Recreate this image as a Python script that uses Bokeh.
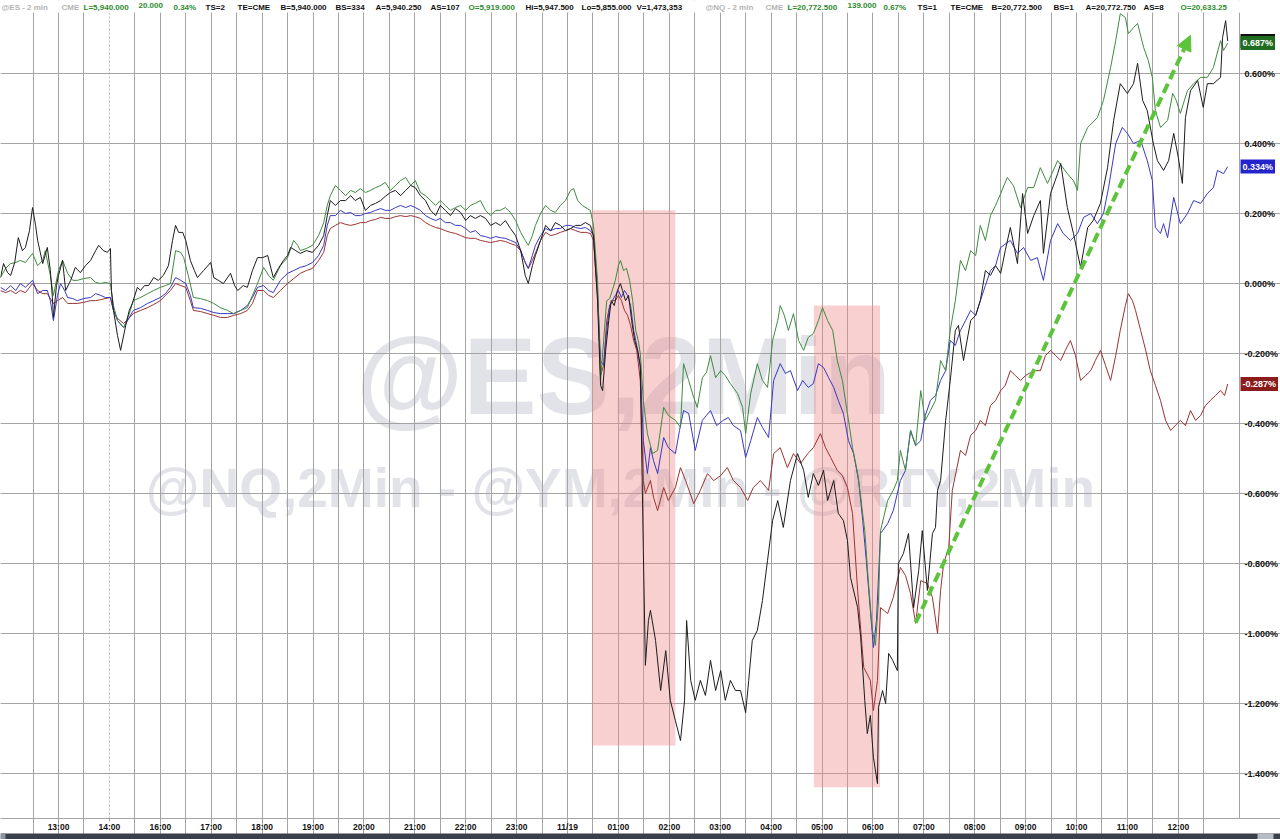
from bokeh.plotting import figure
from bokeh.models import (Range1d, FixedTicker, PrintfTickFormatter, Label,
                          BoxAnnotation, Arrow, NormalHead)
from bokeh.embed import file_html
from bokeh.resources import INLINE
from bokeh.core.properties import value

# ---------------- data ----------------
# x = position on the compressed session axis (one unit per labelled hour, 0 = "13:00")
time_labels = ["13:00", "14:00", "16:00", "17:00", "18:00", "19:00", "20:00", "21:00",
               "22:00", "23:00", "11/19", "01:00", "02:00", "03:00", "04:00", "05:00",
               "06:00", "07:00", "08:00", "09:00", "10:00", "11:00", "12:00"]
y_ticks = [-1.4, -1.2, -1.0, -0.8, -0.6, -0.4, -0.2, 0.0, 0.2, 0.4, 0.6]

# @RTY (black) % change
rty_t = [-1.14, -1.08, -1.00, -0.94, -0.86, -0.79, -0.71, -0.65, -0.57, -0.51,
         -0.45, -0.41, -0.31, -0.22, -0.16, -0.12, -0.10, -0.04, 0.00, 0.08,
         0.14, 0.24, 0.33, 0.43, 0.53, 0.63, 0.73, 0.79, 0.88, 0.96,
         1.02, 1.04, 1.08, 1.16, 1.22, 1.32, 1.39, 1.45, 1.55, 1.61,
         1.69, 1.77, 1.87, 1.96, 2.06, 2.16, 2.24, 2.30, 2.36, 2.44,
         2.50, 2.59, 2.67, 2.73, 2.85, 2.99, 3.05, 3.14, 3.24, 3.38,
         3.46, 3.52, 3.63, 3.71, 3.81, 3.91, 4.01, 4.11, 4.22, 4.32,
         4.42, 4.50, 4.56, 4.66, 4.75, 4.87, 4.99, 5.11, 5.21, 5.28,
         5.34, 5.44, 5.54, 5.64, 5.74, 5.83, 5.93, 6.03, 6.13, 6.23,
         6.33, 6.42, 6.52, 6.62, 6.72, 6.82, 6.92, 7.01, 7.11, 7.21,
         7.31, 7.41, 7.50, 7.60, 7.70, 7.80, 7.90, 8.00, 8.09, 8.19,
         8.29, 8.39, 8.49, 8.59, 8.68, 8.78, 8.88, 8.98, 9.08, 9.17,
         9.23, 9.31, 9.37, 9.47, 9.57, 9.67, 9.76, 9.86, 9.96, 10.06,
         10.16, 10.26, 10.35, 10.45, 10.51, 10.59, 10.65, 10.69, 10.75, 10.81,
         10.86, 10.92, 10.98, 11.04, 11.08, 11.14, 11.20, 11.26, 11.32, 11.38,
         11.43, 11.49, 11.53, 11.59, 11.63, 11.73, 11.83, 11.93, 12.02, 12.12,
         12.22, 12.30, 12.34, 12.42, 12.51, 12.61, 12.71, 12.81, 12.91, 13.01,
         13.10, 13.20, 13.30, 13.40, 13.50, 13.56, 13.63, 13.73, 13.83, 13.93,
         14.03, 14.13, 14.24, 14.38, 14.52, 14.64, 14.73, 14.83, 14.93, 15.03,
         15.11, 15.23, 15.32, 15.42, 15.50, 15.56, 15.70, 15.76, 15.84, 15.89,
         15.95, 16.01, 16.09, 16.11, 16.19, 16.25, 16.31, 16.39, 16.48, 16.50,
         16.60, 16.70, 16.80, 16.90, 16.97, 17.07, 17.17, 17.23, 17.27, 17.33,
         17.43, 17.52, 17.62, 17.68, 17.78, 17.92, 18.02, 18.11, 18.21, 18.31,
         18.41, 18.51, 18.60, 18.70, 18.84, 18.94, 19.04, 19.16, 19.29, 19.35,
         19.49, 19.63, 19.69, 19.82, 19.94, 20.08, 20.22, 20.33, 20.47, 20.61,
         20.73, 20.86, 21.00, 21.12, 21.20, 21.30, 21.39, 21.51, 21.59, 21.71,
         21.81, 21.91, 22.00, 22.08, 22.14, 22.24, 22.38, 22.49, 22.57, 22.69,
         22.83, 22.87, 22.93, 22.97]
rty_v = [0.017, 0.057, 0.031, 0.023, 0.060, 0.131, 0.094, 0.103, 0.151, 0.217,
         0.166, 0.123, 0.057, 0.103, 0.037, -0.040, -0.097, -0.006, 0.023, 0.066,
         -0.020, 0.009, 0.046, 0.031, 0.051, 0.066, 0.094, 0.109, 0.094, 0.089,
         0.100, -0.020, -0.077, -0.149, -0.191, -0.120, -0.077, -0.057, -0.011, -0.020,
         -0.006, -0.006, 0.017, 0.009, 0.023, 0.051, 0.123, 0.166, 0.146, 0.146,
         0.123, 0.066, 0.037, 0.017, 0.037, 0.060, 0.017, 0.009, 0.000, 0.029,
         -0.006, -0.020, -0.006, -0.011, 0.037, 0.074, 0.074, 0.080, 0.017, 0.043,
         0.066, 0.080, 0.103, 0.094, 0.086, 0.094, 0.089, 0.109, 0.137, 0.194,
         0.237, 0.223, 0.237, 0.237, 0.251, 0.237, 0.246, 0.209, 0.223, 0.229,
         0.237, 0.249, 0.260, 0.266, 0.251, 0.266, 0.280, 0.274, 0.251, 0.237,
         0.209, 0.194, 0.223, 0.209, 0.194, 0.214, 0.203, 0.180, 0.194, 0.186,
         0.194, 0.186, 0.166, 0.174, 0.166, 0.180, 0.157, 0.137, 0.094, 0.023,
         0.000, 0.051, 0.080, 0.123, 0.166, 0.151, 0.174, 0.166, 0.151, 0.157,
         0.166, 0.166, 0.174, 0.166, 0.137, -0.049, -0.291, -0.306, -0.191, -0.106,
         -0.049, -0.063, -0.020, 0.000, -0.020, -0.049, -0.034, -0.106, -0.163, -0.191,
         -0.234, -0.763, -1.091, -0.963, -0.934, -1.020, -1.163, -1.049, -1.191, -1.249,
         -1.306, -1.191, -0.963, -1.134, -1.191, -1.134, -1.177, -1.077, -1.163, -1.106,
         -1.191, -1.134, -1.163, -1.163, -1.226, -1.134, -1.020, -0.991, -0.906, -0.791,
         -0.677, -0.620, -0.697, -0.563, -0.486, -0.534, -0.611, -0.543, -0.577, -0.534,
         -0.620, -0.563, -0.657, -0.677, -0.734, -0.840, -0.926, -1.011, -1.191, -1.286,
         -1.234, -1.354, -1.429, -1.211, -1.163, -1.200, -1.057, -1.077, -1.106, -0.800,
         -0.771, -0.714, -0.926, -0.820, -0.706, -0.877, -0.714, -0.697, -0.591, -0.563,
         -0.391, -0.277, -0.134, -0.120, -0.220, -0.106, -0.091, -0.049, 0.037, 0.023,
         0.051, 0.029, 0.094, 0.160, 0.057, 0.257, 0.143, 0.194, 0.237, 0.086,
         0.257, 0.314, 0.343, 0.217, 0.143, 0.046, 0.160, 0.180, 0.229, 0.331,
         0.466, 0.571, 0.543, 0.571, 0.629, 0.523, 0.494, 0.400, 0.351, 0.323,
         0.351, 0.429, 0.360, 0.286, 0.474, 0.551, 0.580, 0.503, 0.571, 0.571,
         0.589, 0.703, 0.751, 0.693]

# @NQ (green) % change
nq_t = [-1.14, -1.04, -0.94, -0.84, -0.75, -0.65, -0.51, -0.41, -0.31, -0.26,
        -0.16, -0.10, 0.00, 0.08, 0.18, 0.28, 0.37, 0.49, 0.63, 0.73,
        0.83, 0.92, 1.02, 1.08, 1.16, 1.28, 1.38, 1.47, 1.61, 1.75,
        1.87, 2.00, 2.10, 2.20, 2.30, 2.40, 2.46, 2.55, 2.65, 2.79,
        2.93, 3.05, 3.18, 3.32, 3.44, 3.58, 3.71, 3.81, 3.91, 4.03,
        4.13, 4.22, 4.36, 4.50, 4.62, 4.70, 4.75, 4.87, 4.99, 5.11,
        5.21, 5.28, 5.34, 5.44, 5.54, 5.64, 5.74, 5.83, 5.93, 6.03,
        6.13, 6.23, 6.33, 6.42, 6.52, 6.62, 6.72, 6.82, 6.92, 7.01,
        7.11, 7.21, 7.31, 7.41, 7.50, 7.60, 7.70, 7.80, 7.90, 8.00,
        8.09, 8.19, 8.29, 8.39, 8.49, 8.59, 8.68, 8.78, 8.88, 8.98,
        9.08, 9.17, 9.23, 9.31, 9.37, 9.47, 9.57, 9.67, 9.76, 9.86,
        9.96, 10.06, 10.12, 10.20, 10.29, 10.39, 10.45, 10.51, 10.59, 10.65,
        10.71, 10.77, 10.83, 10.88, 10.94, 11.00, 11.04, 11.10, 11.16, 11.22,
        11.28, 11.34, 11.39, 11.43, 11.49, 11.57, 11.67, 11.77, 11.89, 11.98,
        12.12, 12.22, 12.28, 12.38, 12.48, 12.55, 12.65, 12.73, 12.81, 12.91,
        13.01, 13.10, 13.20, 13.34, 13.44, 13.50, 13.60, 13.73, 13.83, 13.93,
        14.03, 14.13, 14.18, 14.26, 14.34, 14.44, 14.54, 14.64, 14.73, 14.83,
        14.93, 15.01, 15.11, 15.21, 15.30, 15.40, 15.50, 15.60, 15.70, 15.76,
        15.84, 15.91, 15.99, 16.05, 16.11, 16.15, 16.29, 16.40, 16.48, 16.54,
        16.64, 16.74, 16.84, 16.94, 17.03, 17.13, 17.23, 17.33, 17.43, 17.52,
        17.62, 17.72, 17.82, 17.92, 18.02, 18.11, 18.21, 18.31, 18.41, 18.51,
        18.64, 18.76, 18.90, 19.04, 19.16, 19.29, 19.43, 19.63, 19.82, 19.94,
        20.02, 20.08, 20.22, 20.41, 20.53, 20.67, 20.77, 20.86, 20.96, 21.02,
        21.12, 21.20, 21.32, 21.41, 21.49, 21.55, 21.65, 21.79, 21.89, 21.96,
        22.04, 22.18, 22.30, 22.44, 22.57, 22.69, 22.83, 22.89, 22.97]
nq_v = [0.017, 0.043, 0.057, 0.060, 0.066, 0.060, 0.086, 0.051, 0.066, 0.094,
        0.023, -0.034, 0.037, 0.066, 0.029, 0.009, 0.009, 0.014, 0.017, 0.003,
        0.000, 0.003, 0.000, -0.063, -0.106, -0.126, -0.091, -0.049, -0.040, -0.029,
        -0.020, -0.011, -0.006, 0.000, 0.094, 0.089, 0.074, 0.023, -0.040, -0.043,
        -0.049, -0.057, -0.069, -0.077, -0.086, -0.077, -0.069, -0.034, 0.000, 0.046,
        0.023, 0.009, 0.051, 0.074, 0.123, 0.109, 0.094, 0.100, 0.109, 0.137,
        0.174, 0.223, 0.251, 0.280, 0.266, 0.251, 0.266, 0.260, 0.271, 0.260,
        0.266, 0.274, 0.280, 0.289, 0.266, 0.280, 0.294, 0.303, 0.280, 0.294,
        0.260, 0.251, 0.237, 0.223, 0.237, 0.223, 0.209, 0.217, 0.223, 0.209,
        0.223, 0.229, 0.237, 0.209, 0.194, 0.209, 0.209, 0.217, 0.203, 0.180,
        0.146, 0.123, 0.109, 0.137, 0.166, 0.200, 0.223, 0.209, 0.203, 0.223,
        0.237, 0.266, 0.271, 0.237, 0.223, 0.214, 0.209, 0.166, 0.009, -0.277,
        -0.163, -0.049, -0.043, -0.020, 0.009, 0.051, 0.066, 0.037, 0.043, 0.009,
        -0.049, -0.134, -0.163, -0.200, -0.334, -0.429, -0.486, -0.477, -0.354, -0.377,
        -0.391, -0.411, -0.229, -0.277, -0.326, -0.354, -0.269, -0.254, -0.206, -0.269,
        -0.249, -0.263, -0.286, -0.314, -0.354, -0.429, -0.314, -0.229, -0.277, -0.297,
        -0.163, -0.106, -0.063, -0.091, -0.134, -0.086, -0.163, -0.191, -0.154, -0.143,
        -0.106, -0.069, -0.106, -0.134, -0.220, -0.277, -0.371, -0.469, -0.543, -0.611,
        -0.706, -0.849, -0.991, -1.034, -0.906, -0.706, -0.620, -0.591, -0.563, -0.477,
        -0.534, -0.420, -0.463, -0.306, -0.391, -0.363, -0.334, -0.220, -0.249, -0.134,
        -0.049, 0.066, 0.037, 0.094, 0.080, 0.166, 0.123, 0.194, 0.223, 0.257,
        0.303, 0.280, 0.217, 0.274, 0.274, 0.331, 0.286, 0.351, 0.314, 0.294,
        0.266, 0.400, 0.446, 0.474, 0.523, 0.617, 0.694, 0.771, 0.760, 0.714,
        0.731, 0.743, 0.674, 0.637, 0.589, 0.494, 0.446, 0.466, 0.543, 0.523,
        0.486, 0.551, 0.571, 0.589, 0.589, 0.617, 0.694, 0.666, 0.687]

# @ES (blue) % change
es_t = [-1.14, -1.04, -0.94, -0.84, -0.75, -0.65, -0.51, -0.41, -0.31, -0.22,
        -0.16, -0.10, -0.02, 0.04, 0.12, 0.18, 0.28, 0.37, 0.49, 0.63,
        0.73, 0.83, 0.92, 1.02, 1.08, 1.16, 1.28, 1.38, 1.47, 1.61,
        1.75, 1.87, 2.00, 2.10, 2.20, 2.30, 2.40, 2.50, 2.59, 2.65,
        2.79, 2.93, 3.05, 3.18, 3.32, 3.44, 3.58, 3.71, 3.81, 3.91,
        4.03, 4.13, 4.22, 4.36, 4.50, 4.62, 4.75, 4.87, 4.99, 5.11,
        5.21, 5.28, 5.34, 5.44, 5.54, 5.64, 5.74, 5.83, 5.93, 6.03,
        6.13, 6.23, 6.33, 6.42, 6.52, 6.62, 6.72, 6.82, 6.92, 7.01,
        7.11, 7.21, 7.31, 7.41, 7.50, 7.60, 7.70, 7.80, 7.90, 8.00,
        8.09, 8.19, 8.29, 8.39, 8.49, 8.59, 8.68, 8.78, 8.88, 8.98,
        9.08, 9.17, 9.23, 9.31, 9.37, 9.47, 9.57, 9.67, 9.76, 9.86,
        9.96, 10.06, 10.16, 10.26, 10.35, 10.45, 10.51, 10.59, 10.65, 10.71,
        10.77, 10.83, 10.88, 10.94, 11.00, 11.06, 11.12, 11.18, 11.24, 11.30,
        11.36, 11.43, 11.49, 11.57, 11.63, 11.69, 11.77, 11.89, 11.98, 12.12,
        12.20, 12.28, 12.38, 12.44, 12.51, 12.65, 12.73, 12.81, 12.93, 13.06,
        13.16, 13.26, 13.40, 13.50, 13.60, 13.73, 13.83, 13.95, 14.05, 14.18,
        14.28, 14.38, 14.52, 14.62, 14.73, 14.83, 14.93, 15.03, 15.13, 15.23,
        15.32, 15.42, 15.52, 15.62, 15.72, 15.80, 15.87, 15.95, 16.01, 16.07,
        16.15, 16.29, 16.40, 16.54, 16.64, 16.74, 16.84, 16.94, 17.03, 17.13,
        17.23, 17.33, 17.43, 17.52, 17.62, 17.72, 17.82, 17.92, 18.02, 18.11,
        18.21, 18.31, 18.41, 18.51, 18.70, 18.84, 18.96, 19.10, 19.23, 19.35,
        19.49, 19.63, 19.74, 19.88, 20.02, 20.14, 20.28, 20.41, 20.53, 20.63,
        20.77, 20.90, 21.00, 21.12, 21.26, 21.39, 21.49, 21.55, 21.65, 21.71,
        21.79, 21.91, 22.04, 22.18, 22.30, 22.44, 22.57, 22.69, 22.77, 22.89,
        22.97]
es_v = [-0.011, -0.020, -0.006, -0.020, 0.000, -0.011, 0.009, -0.029, -0.020, -0.020,
        -0.049, -0.106, -0.034, 0.000, -0.020, -0.040, -0.043, -0.049, -0.043, -0.040,
        -0.029, -0.034, -0.040, -0.040, -0.077, -0.106, -0.126, -0.100, -0.077, -0.069,
        -0.057, -0.049, -0.040, -0.029, -0.011, 0.017, 0.009, 0.000, -0.034, -0.069,
        -0.071, -0.077, -0.083, -0.086, -0.086, -0.086, -0.077, -0.063, -0.040, -0.011,
        -0.006, -0.020, -0.026, 0.009, 0.029, 0.037, 0.046, 0.051, 0.060, 0.080,
        0.109, 0.166, 0.194, 0.194, 0.209, 0.200, 0.203, 0.194, 0.194, 0.200,
        0.203, 0.209, 0.214, 0.209, 0.209, 0.217, 0.223, 0.217, 0.223, 0.217,
        0.209, 0.194, 0.186, 0.180, 0.186, 0.174, 0.174, 0.166, 0.166, 0.157,
        0.146, 0.151, 0.137, 0.134, 0.129, 0.134, 0.131, 0.129, 0.123, 0.117,
        0.094, 0.060, 0.043, 0.080, 0.109, 0.137, 0.157, 0.151, 0.157, 0.157,
        0.166, 0.166, 0.160, 0.157, 0.160, 0.151, 0.137, -0.020, -0.220, -0.234,
        -0.134, -0.063, -0.049, -0.034, -0.020, -0.040, -0.020, -0.034, -0.063, -0.134,
        -0.177, -0.240, -0.449, -0.543, -0.469, -0.506, -0.543, -0.440, -0.469, -0.486,
        -0.420, -0.363, -0.371, -0.420, -0.477, -0.391, -0.377, -0.363, -0.406, -0.391,
        -0.383, -0.406, -0.420, -0.497, -0.449, -0.383, -0.411, -0.440, -0.277, -0.229,
        -0.257, -0.249, -0.306, -0.277, -0.297, -0.286, -0.229, -0.240, -0.269, -0.297,
        -0.334, -0.371, -0.449, -0.486, -0.563, -0.677, -0.791, -0.934, -1.040, -0.963,
        -0.714, -0.686, -0.649, -0.563, -0.534, -0.420, -0.463, -0.449, -0.377, -0.334,
        -0.320, -0.277, -0.249, -0.163, -0.177, -0.134, -0.106, -0.077, -0.091, -0.049,
        -0.006, 0.037, 0.051, 0.103, 0.123, 0.086, 0.103, 0.066, 0.074, 0.009,
        0.123, 0.171, 0.143, 0.123, 0.143, 0.189, 0.200, 0.171, 0.200, 0.274,
        0.400, 0.446, 0.429, 0.400, 0.409, 0.351, 0.294, 0.160, 0.143, 0.171,
        0.131, 0.246, 0.171, 0.200, 0.237, 0.229, 0.257, 0.274, 0.323, 0.314,
        0.334]

# @YM (dark red) % change
ym_t = [-1.14, -1.04, -0.94, -0.84, -0.75, -0.65, -0.51, -0.41, -0.31, -0.22,
        -0.10, -0.02, 0.08, 0.18, 0.28, 0.37, 0.49, 0.63, 0.73, 0.83,
        0.92, 1.02, 1.08, 1.16, 1.28, 1.38, 1.47, 1.61, 1.75, 1.87,
        2.00, 2.10, 2.20, 2.30, 2.40, 2.50, 2.59, 2.65, 2.79, 2.93,
        3.05, 3.18, 3.32, 3.44, 3.58, 3.71, 3.81, 3.91, 4.03, 4.13,
        4.22, 4.36, 4.50, 4.62, 4.75, 4.87, 4.99, 5.11, 5.21, 5.28,
        5.34, 5.44, 5.54, 5.64, 5.74, 5.83, 5.93, 6.03, 6.13, 6.23,
        6.33, 6.42, 6.52, 6.62, 6.72, 6.82, 6.92, 7.01, 7.11, 7.21,
        7.31, 7.41, 7.50, 7.60, 7.70, 7.80, 7.90, 8.00, 8.09, 8.19,
        8.29, 8.39, 8.49, 8.59, 8.68, 8.78, 8.88, 8.98, 9.08, 9.17,
        9.23, 9.31, 9.39, 9.47, 9.57, 9.67, 9.76, 9.86, 9.96, 10.06,
        10.16, 10.26, 10.35, 10.45, 10.51, 10.59, 10.65, 10.71, 10.77, 10.83,
        10.88, 10.94, 11.00, 11.06, 11.12, 11.18, 11.24, 11.30, 11.36, 11.43,
        11.49, 11.53, 11.63, 11.69, 11.77, 11.89, 11.98, 12.12, 12.22, 12.32,
        12.48, 12.61, 12.75, 12.87, 13.01, 13.14, 13.26, 13.40, 13.54, 13.65,
        13.79, 13.95, 14.05, 14.18, 14.32, 14.44, 14.58, 14.72, 14.83, 14.97,
        15.07, 15.17, 15.30, 15.40, 15.50, 15.60, 15.70, 15.82, 15.95, 16.01,
        16.09, 16.15, 16.29, 16.40, 16.54, 16.64, 16.74, 16.84, 16.94, 17.07,
        17.17, 17.27, 17.33, 17.39, 17.49, 17.56, 17.64, 17.72, 17.82, 17.92,
        18.02, 18.11, 18.21, 18.31, 18.41, 18.51, 18.60, 18.70, 18.80, 18.90,
        19.00, 19.10, 19.19, 19.29, 19.39, 19.49, 19.59, 19.69, 19.78, 19.88,
        19.98, 20.08, 20.18, 20.28, 20.37, 20.47, 20.57, 20.67, 20.77, 20.86,
        20.96, 21.02, 21.10, 21.16, 21.26, 21.36, 21.45, 21.55, 21.65, 21.75,
        21.85, 21.94, 22.04, 22.14, 22.24, 22.34, 22.44, 22.53, 22.63, 22.73,
        22.83, 22.91, 22.97]
ym_v = [-0.020, -0.026, -0.020, -0.029, -0.020, -0.026, 0.000, -0.020, -0.029, -0.029,
        -0.057, -0.049, -0.040, -0.057, -0.057, -0.057, -0.054, -0.049, -0.049, -0.046,
        -0.043, -0.040, -0.077, -0.100, -0.114, -0.100, -0.086, -0.077, -0.069, -0.060,
        -0.049, -0.034, -0.020, 0.000, -0.006, -0.011, -0.049, -0.077, -0.080, -0.086,
        -0.091, -0.097, -0.097, -0.091, -0.086, -0.077, -0.057, -0.020, -0.020, -0.034,
        -0.040, -0.020, 0.000, 0.014, 0.029, 0.037, 0.043, 0.066, 0.089, 0.137,
        0.157, 0.166, 0.174, 0.169, 0.166, 0.169, 0.174, 0.174, 0.180, 0.183,
        0.189, 0.186, 0.186, 0.191, 0.194, 0.191, 0.194, 0.191, 0.186, 0.174,
        0.166, 0.160, 0.157, 0.151, 0.146, 0.143, 0.137, 0.131, 0.129, 0.129,
        0.123, 0.120, 0.117, 0.120, 0.123, 0.120, 0.114, 0.109, 0.094, 0.060,
        0.043, 0.066, 0.094, 0.123, 0.146, 0.137, 0.140, 0.146, 0.151, 0.157,
        0.151, 0.146, 0.146, 0.143, 0.123, -0.034, -0.263, -0.234, -0.106, -0.063,
        -0.049, -0.049, -0.034, -0.049, -0.077, -0.091, -0.120, -0.163, -0.191, -0.277,
        -0.563, -0.600, -0.563, -0.611, -0.649, -0.583, -0.620, -0.583, -0.526, -0.563,
        -0.629, -0.591, -0.543, -0.563, -0.549, -0.526, -0.563, -0.583, -0.620, -0.583,
        -0.563, -0.591, -0.486, -0.469, -0.526, -0.486, -0.514, -0.486, -0.469, -0.429,
        -0.469, -0.497, -0.534, -0.549, -0.583, -0.657, -0.877, -1.097, -1.134, -1.220,
        -1.134, -0.926, -0.943, -0.897, -0.811, -0.834, -0.886, -0.971, -0.849, -0.857,
        -0.897, -1.000, -0.877, -0.800, -0.754, -0.591, -0.534, -0.477, -0.491, -0.434,
        -0.420, -0.391, -0.406, -0.349, -0.334, -0.306, -0.291, -0.249, -0.263, -0.277,
        -0.263, -0.254, -0.249, -0.249, -0.206, -0.191, -0.206, -0.220, -0.191, -0.163,
        -0.206, -0.277, -0.263, -0.249, -0.220, -0.191, -0.234, -0.277, -0.206, -0.134,
        -0.063, -0.029, -0.049, -0.077, -0.134, -0.191, -0.249, -0.291, -0.334, -0.391,
        -0.420, -0.406, -0.391, -0.406, -0.363, -0.391, -0.377, -0.349, -0.334, -0.320,
        -0.306, -0.320, -0.287]

# shaded sell-off windows (start, end on the session axis; top, bottom in %)
zone_start = [10.48, 14.84]
zone_end = [12.12, 16.14]
zone_top = [0.209, -0.063]
zone_bottom = [-1.320, -1.439]

# trend arrow (from, to)
arrow_t = [16.84, 22.24]
arrow_v = [-0.969, 0.709]

for a, b in [(rty_t, rty_v), (nq_t, nq_v), (es_t, es_v), (ym_t, ym_v)]:
    assert len(a) == len(b), (len(a), len(b))

# ---------------- layout ----------------
FONT = "Liberation Sans"
W, H = 1280, 839
PX_PER_HOUR = 50.9          # horizontal spacing of the hour labels
PX_PER_PCT = 350.0          # vertical spacing of 1 %
ORIGIN_PX = 58.0            # "13:00" tick
ZERO_PY = 283.0             # 0.000 % line


def hx(px):  # horizontal pixel -> session axis
    return (px - ORIGIN_PX) / PX_PER_HOUR


def vy(py):  # vertical pixel (from top) -> %
    return (ZERO_PY - py) / PX_PER_PCT


X0, X1 = hx(0), hx(W)
Y1, Y0 = vy(0), vy(H)
X_AX = hx(1239)   # price axis line
Y_AX = vy(818)    # time axis line
GRID = "#a4a4a4"

C_RTY = "#1c1c1c"
C_NQ = "#3f8a3f"
C_ES = "#3838c4"
C_YM = "#9c3232"

p = figure(width=W, height=H, x_range=Range1d(X0, X1), y_range=Range1d(Y0, Y1),
           y_axis_location="right", toolbar_location=None, output_backend="svg",
           min_border=0)
p.background_fill_color = "white"
p.border_fill_color = "white"
p.outline_line_color = None

# scrollbar strip under the time axis (kept beneath the axis labels)
p.add_layout(BoxAnnotation(top=vy(833), fill_color="#3a3f4a", fill_alpha=1.0,
                           line_color=None, level="underlay"))
p.add_layout(BoxAnnotation(top=vy(833), right=hx(5), fill_color="#8e949f", fill_alpha=1.0,
                           line_color=None, level="underlay"))
p.add_layout(BoxAnnotation(top=vy(833), left=hx(1257), right=hx(1273), fill_color="#b7bbc4",
                           fill_alpha=1.0, line_color=None, level="underlay"))

# grids
grid_x = sorted(set([i - 0.5 for i in range(len(time_labels))] +
                    list(range(len(time_labels))) + [len(time_labels) - 0.5]) - {1})
p.xgrid.ticker = FixedTicker(ticks=grid_x)
p.ygrid.ticker = FixedTicker(ticks=y_ticks)
p.xgrid.bounds = (Y_AX, Y1)
p.ygrid.bounds = (X0, X_AX)
p.grid.grid_line_color = GRID
p.grid.grid_line_width = 1

# axes (drawn at fixed positions inside the canvas)
xa = p.xaxis[0]
xa.fixed_location = Y_AX
xa.ticker = FixedTicker(ticks=list(range(len(time_labels))))
xa.major_label_overrides = {i: lab for i, lab in enumerate(time_labels)}
ya = p.yaxis[0]
ya.fixed_location = X_AX
ya.bounds = (Y_AX, Y1)
ya.ticker = FixedTicker(ticks=y_ticks)
ya.formatter = PrintfTickFormatter(format="%.3f%%")
for ax in (xa, ya):
    ax.axis_line_color = GRID
    ax.major_tick_line_color = GRID
    ax.minor_tick_line_color = None
    ax.major_tick_in = 0
    ax.major_label_text_font = FONT
    ax.major_label_text_font_style = "bold"
    ax.major_label_text_color = "#111111"
xa.major_label_text_font_size = "8.5px"
ya.major_label_text_font_size = "9px"
xa.major_tick_out = 3
xa.major_label_standoff = 0
ya.major_tick_out = 4
ya.major_label_standoff = 1

# watermark
p.text(x=[11.10], y=[-0.262], text=["@ES,2Min"], level="image",
       text_font=value(FONT), text_font_style="bold", text_font_size=value("110px"),
       text_color="#e2e3e9", text_align="center", text_baseline="middle")
p.text(x=[11.04], y=[-0.583], text=["@NQ,2Min - @YM,2Min - @RTY,2Min"], level="image",
       text_font=value(FONT), text_font_style="bold", text_font_size=value("55px"),
       text_color="#e2e3e9", text_align="center", text_baseline="middle")

# session break (14:00) dashed line
p.segment(x0=[1], y0=[Y_AX], x1=[1], y1=[Y1], line_color="#b8b8b8",
          line_dash="2 2", line_width=1, level="underlay")

# shaded zones
p.quad(left=zone_start, right=zone_end, top=zone_top, bottom=zone_bottom,
       fill_color="#ee8a8a", fill_alpha=0.40, line_color=None)

# series
p.line(ym_t, ym_v, line_color=C_YM, line_width=1)
p.line(es_t, es_v, line_color=C_ES, line_width=1)
p.line(nq_t, nq_v, line_color=C_NQ, line_width=1)
p.line(rty_t, rty_v, line_color=C_RTY, line_width=1)

# trend arrow
AG = "#5cc43a"
p.add_layout(Arrow(end=NormalHead(size=15, fill_color=AG, line_color=AG),
                   x_start=arrow_t[0], y_start=arrow_v[0], x_end=arrow_t[1], y_end=arrow_v[1],
                   line_color=AG, line_width=4, line_dash="10 5"))

# header strip
p.add_layout(BoxAnnotation(bottom=vy(12), fill_color="white", fill_alpha=1.0,
                           line_color=None))
GRAY, HG, BK = "#b4b4b4", "#2e8b2e", "#111111"
header = [("@ES - 2 min", 1, GRAY), ("CME", 61, GRAY), ("L=5,940.000", 83, HG),
          ("20.000", 138, HG), ("0.34%", 173, HG), ("TS=2", 205, BK), ("TE=CME", 237, BK),
          ("B=5,940.000", 280, BK), ("BS=334", 335, BK), ("A=5,940.250", 375, BK),
          ("AS=107", 430, BK), ("O=5,919.000", 468, HG), ("Hi=5,947.500", 525, BK),
          ("Lo=5,855.000", 581, BK), ("V=1,473,353", 636, BK), ("@NQ - 2 min", 705, GRAY),
          ("CME", 765, GRAY), ("L=20,772.500", 787, HG), ("139.000", 847, HG),
          ("0.67%", 883, HG), ("TS=1", 917, BK), ("TE=CME", 950, BK),
          ("B=20,772.500", 991, BK), ("BS=1", 1053, BK), ("A=20,772.750", 1085, BK),
          ("AS=8", 1143, BK), ("O=20,633.25", 1180, HG)]
for txt, px, col in header:
    p.add_layout(Label(x=hx(px), y=Y1, text=txt,
                       text_font=FONT, text_font_style="bold", text_font_size="8px",
                       text_color=col, text_baseline="top", y_offset=-2))

# last-value tags on the price axis
for vals, bg in [(rty_v, "#111111"), (nq_v, "#1f6b1f"), (es_v, "#2424cc"), (ym_v, "#8c1c1c")]:
    last = vals[-1]
    p.add_layout(Label(x=X_AX, y=last, text="%.3f%%" % last, x_offset=1,
                       text_font=FONT, text_font_style="bold",
                       text_font_size="9px", text_color="white", text_align="left",
                       text_baseline="middle", background_fill_color=bg,
                       background_fill_alpha=1.0, padding=2))

open("out.html", "w").write(file_html(p, INLINE))
